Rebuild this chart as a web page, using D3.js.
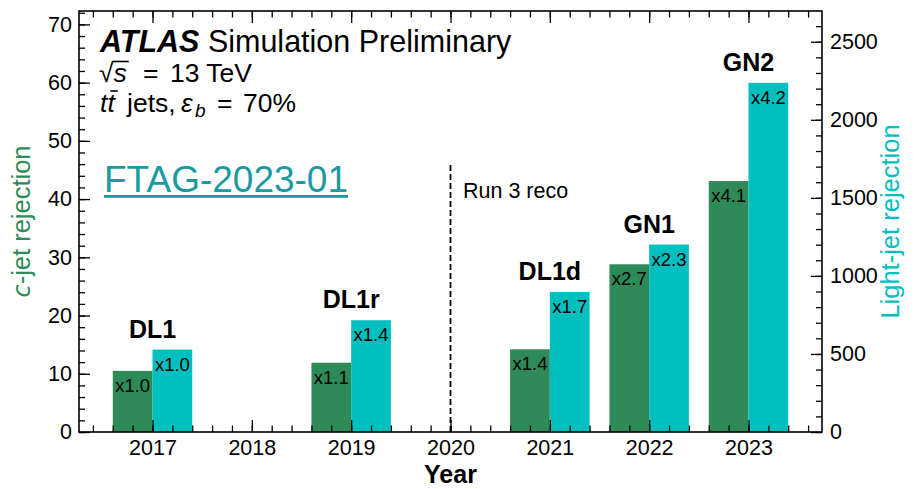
<!DOCTYPE html>
<html><head><meta charset="utf-8">
<script src="https://cdn.jsdelivr.net/npm/d3@7"></script>
<style>body{margin:0;background:#fff}svg{display:block}text{font-family:"Liberation Sans",Arial,Helvetica,sans-serif}</style>
</head><body>
<svg id="c" width="914" height="489"></svg>
<script>
const years = [2017, 2019, 2021, 2022, 2023];
const models = ["DL1", "DL1r", "DL1d", "GN1", "GN2"];
const cRej = [10.5, 11.9, 14.2, 28.8, 43.1];
const lRej = [528, 716, 897, 1201, 2237];
const cLabels = ["x1.0", "x1.1", "x1.4", "x2.7", "x4.1"];
const lLabels = ["x1.0", "x1.4", "x1.7", "x2.3", "x4.2"];
const yearTicks = [2017, 2018, 2019, 2020, 2021, 2022, 2023];
const cTicks = [0, 10, 20, 30, 40, 50, 60, 70];
const lTicks = [0, 500, 1000, 1500, 2000, 2500];

(function () {
const GREEN = "#2e8b57", CYAN = "#00bfbf", TEAL = "#1a9ba1";
const L = 79, R = 822, T = 11, B = 432;
const svg = d3.select("#c");
const x = d3.scaleLinear().domain([2016.26, 2023.74]).range([L, R]);
const yC = d3.scaleLinear().domain([0, 72.3]).range([B, T]);
const yL = d3.scaleLinear().domain([0, 2697]).range([B, T]);
const bw = 0.4;

const g = svg.append("g");
g.selectAll(".cb").data(years).join("rect")
  .attr("x", (d) => x(d - bw)).attr("width", (d) => x(d) - x(d - bw))
  .attr("y", (d, i) => yC(cRej[i])).attr("height", (d, i) => yC(0) - yC(cRej[i]))
  .attr("fill", GREEN);
g.selectAll(".lb").data(years).join("rect")
  .attr("x", (d) => x(d)).attr("width", (d) => x(d + bw) - x(d))
  .attr("y", (d, i) => yL(lRej[i])).attr("height", (d, i) => yL(0) - yL(lRej[i]))
  .attr("fill", CYAN);
g.selectAll(".ct").data(years).join("text")
  .attr("x", (d) => x(d - bw / 2)).attr("y", (d, i) => yC(cRej[i]) + 21)
  .attr("text-anchor", "middle").attr("font-size", 18.5).text((d, i) => cLabels[i]);
g.selectAll(".lt").data(years).join("text")
  .attr("x", (d) => x(d + bw / 2)).attr("y", (d, i) => yL(lRej[i]) + 21)
  .attr("text-anchor", "middle").attr("font-size", 18.5).text((d, i) => lLabels[i]);
g.selectAll(".mt").data(years).join("text")
  .attr("x", (d) => x(d)).attr("y", (d, i) => yL(lRej[i]) - 12)
  .attr("text-anchor", "middle").attr("font-size", 25).attr("font-weight", "bold")
  .text((d, i) => models[i]);

svg.append("line").attr("x1", x(2020)).attr("x2", x(2020)).attr("y1", 165).attr("y2", B)
  .attr("stroke", "#000").attr("stroke-width", 1.8).attr("stroke-dasharray", "6,3");
svg.append("text").attr("x", 463).attr("y", 198).attr("font-size", 21.5).text("Run 3 reco");

function minor(a, b, s) { const r = []; for (let v = a; v <= b + 1e-9; v += s) r.push(+v.toFixed(4)); return r; }
const xMinor = minor(2016.4, 2023.6, 0.2);
const axB = svg.append("g").attr("transform", `translate(0,${B})`);
axB.call(d3.axisBottom(x).tickValues(xMinor).tickSize(-6.5).tickFormat(""));
axB.append("g").call(d3.axisBottom(x).tickValues(yearTicks).tickSize(-12).tickPadding(8).tickFormat(d3.format("d")));
const axT = svg.append("g").attr("transform", `translate(0,${T})`);
axT.call(d3.axisTop(x).tickValues(xMinor).tickSize(-6.5).tickFormat(""));
axT.append("g").call(d3.axisTop(x).tickValues(yearTicks).tickSize(-12).tickFormat(""));
const axL = svg.append("g").attr("transform", `translate(${L},0)`);
axL.call(d3.axisLeft(yC).tickValues(minor(0, 72, 2)).tickSize(-6).tickFormat(""));
axL.append("g").call(d3.axisLeft(yC).tickValues(cTicks).tickSize(-11).tickPadding(7).tickFormat(d3.format("d")));
const axR = svg.append("g").attr("transform", `translate(${R},0)`);
axR.call(d3.axisRight(yL).tickValues(minor(0, 2600, 100)).tickSize(-6).tickFormat(""));
axR.append("g").call(d3.axisRight(yL).tickValues(lTicks).tickSize(-11).tickPadding(8).tickFormat(d3.format("d")));
svg.selectAll(".domain").remove();
svg.selectAll(".tick line").attr("stroke", "#000").attr("stroke-width", 1.3);
svg.selectAll(".tick text").attr("font-size", 21.5).attr("fill", "#000")
  .attr("font-family", '"Liberation Sans", Arial, sans-serif');
svg.append("rect").attr("x", L).attr("y", T).attr("width", R - L).attr("height", B - T)
  .attr("fill", "none").attr("stroke", "#000").attr("stroke-width", 1.6);

svg.append("text").attr("x", (L + R) / 2).attr("y", 483).attr("text-anchor", "middle")
  .attr("font-size", 25).attr("font-weight", "bold").text("Year");
const cl = svg.append("text").attr("transform", `translate(30,${(T + B) / 2}) rotate(-90)`)
  .attr("text-anchor", "middle").attr("font-size", 25.5).attr("fill", GREEN);
cl.append("tspan").attr("font-style", "italic").attr("font-family", '"DejaVu Sans"').attr("font-size", 24).text("c");
cl.append("tspan").text("-jet rejection");
svg.append("text").attr("transform", `translate(899,${(T + B) / 2}) rotate(-90)`)
  .attr("text-anchor", "middle").attr("font-size", 25.5).attr("fill", CYAN).text("Light-jet rejection");

const t1 = svg.append("text").attr("x", 100).attr("y", 52).attr("font-size", 30.5);
t1.append("tspan").attr("font-weight", "bold").attr("font-style", "italic").text("ATLAS");
t1.append("tspan").text(" Simulation Preliminary");

const MF = '"DejaVu Sans", sans-serif';
const FS = 26.5;
function txt(xx, yy, s, opts) {
  const e = svg.append("text").attr("x", xx).attr("y", yy).attr("font-size", (opts && opts.fs) || FS).text(s);
  if (opts && opts.math) e.attr("font-family", MF).attr("font-style", "italic");
  if (opts && opts.fam) e.attr("font-family", opts.fam);
  return e;
}
const y2 = 82;
const sq = txt(99, y2, "√", { fam: MF });
const sqw = sq.node().getComputedTextLength();
const se = txt(99 + sqw, y2, "s", { math: true });
const sw = se.node().getComputedTextLength();
svg.append("line").attr("x1", 99 + sqw - 1).attr("x2", 99 + sqw + sw + 2).attr("y1", y2 - 20.5).attr("y2", y2 - 20.5)
  .attr("stroke", "#000").attr("stroke-width", 1.6);
txt(143, y2, "=");
txt(170, y2, "13 TeV");
const y3 = 112;
const ta = txt(100, y3, "t", { math: true });
const tw = ta.node().getComputedTextLength();
txt(100 + tw, y3, "t", { math: true });
svg.append("line").attr("x1", 100 + tw + 3).attr("x2", 100 + 2 * tw + 3).attr("y1", y3 - 21).attr("y2", y3 - 21)
  .attr("stroke", "#000").attr("stroke-width", 1.6);
txt(127, y3, "jets,");
txt(181, y3, "ε", { math: true });
txt(195, y3 + 5, "b", { math: true, fs: 19 });
txt(217, y3, "=");
txt(243, y3, "70%");

const ft = svg.append("text").attr("x", 104).attr("y", 192).attr("font-size", 37).attr("fill", TEAL).text("FTAG-2023-01");
const w = ft.node().getComputedTextLength();
svg.append("rect").attr("x", 104).attr("y", 195).attr("width", w).attr("height", 2.8).attr("fill", TEAL);
})();
</script>
</body></html>
